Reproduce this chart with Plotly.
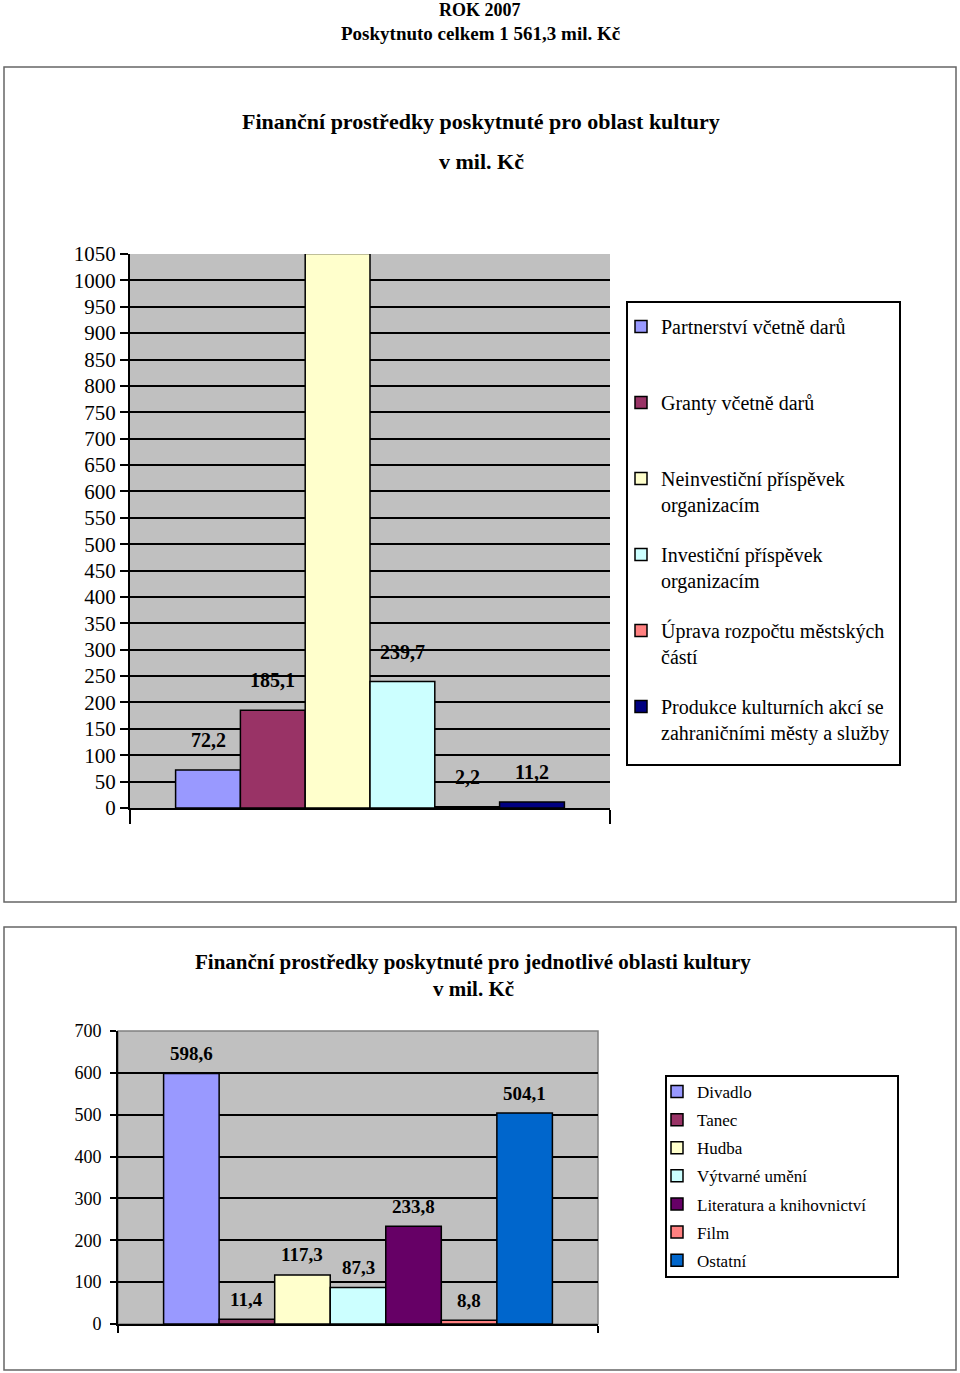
import plotly.graph_objects as go

# ---------------- data ----------------
group1 = ["Kultura"]
categories1 = [
    "Partnerství včetně darů",
    "Granty včetně darů",
    "Neinvestiční příspěvek organizacím",
    "Investiční příspěvek organizacím",
    "Úprava rozpočtu městských částí",
    "Produkce kulturních akcí se zahraničními městy a služby",
]
legend_labels1 = [
    "Partnerství včetně darů<br> ",
    "Granty včetně darů<br> ",
    "Neinvestiční příspěvek<br>organizacím",
    "Investiční příspěvek<br>organizacím",
    "Úprava rozpočtu městských<br>částí",
    "Produkce kulturních akcí se<br>zahraničními městy a služby",
]
values1 = [72.2, 185.1, 1050.9, 239.7, 2.2, 11.2]
colors1 = ["#9999FF", "#993366", "#FFFFCC", "#CCFFFF", "#FF8080", "#000080"]
y1_max = 1050
y1_step = 50

group2 = ["Oblasti"]
categories2 = ["Divadlo", "Tanec", "Hudba", "Výtvarné umění",
               "Literatura a knihovnictví", "Film", "Ostatní"]
values2 = [598.6, 11.4, 117.3, 87.3, 233.8, 8.8, 504.1]
colors2 = ["#9999FF", "#993366", "#FFFFCC", "#CCFFFF", "#660066", "#FF8080", "#0066CC"]
y2_max = 700
y2_step = 100

page_title_lines = ["ROK 2007", "Poskytnuto celkem 1 561,3 mil. Kč"]
title1_lines = ["Finanční prostředky poskytnuté pro oblast kultury", "v mil. Kč"]
title2_lines = ["Finanční prostředky poskytnuté pro jednotlivé oblasti kultury", "v mil. Kč"]

# ---------------- helpers ----------------
W, H = 960, 1373
SERIF = "Liberation Serif, Times New Roman, serif"
BARGAP = 0.19


def px(x):
    return x / W


def py(y):
    return 1 - y / H


def fmt(v):
    return f"{v:.1f}".replace(".", ",")


def slot_centers(n):
    # centres of n grouped bars inside category 0 (as Plotly lays them out)
    width = (1 - BARGAP) / n
    return [-(1 - BARGAP) / 2 + (i + 0.5) * width for i in range(n)]


fig = go.Figure()

for name, lab, v, c in zip(categories1, legend_labels1, values1, colors1):
    fig.add_trace(go.Bar(
        x=group1, y=[v], name=lab, legendgroup=name, legend="legend",
        marker=dict(color=c, line=dict(color="black", width=1.5)),
        xaxis="x", yaxis="y", hoverinfo="skip",
    ))

for name, v, c in zip(categories2, values2, colors2):
    fig.add_trace(go.Bar(
        x=group2, y=[v], name=name, legendgroup=name, legend="legend2",
        marker=dict(color=c, line=dict(color="black", width=1.5)),
        xaxis="x2", yaxis="y2", hoverinfo="skip",
    ))

annotations = []

# value labels, chart 1 (label of the bar that runs past the axis top is cut off)
for xc, v in zip(slot_centers(len(values1)), values1):
    if v <= y1_max:
        annotations.append(dict(
            text=f"<b>{fmt(v)}</b>", x=xc, y=v, xref="x", yref="y",
            xanchor="center", yanchor="middle", yshift=30, showarrow=False,
            font=dict(family=SERIF, size=20)))

# value labels, chart 2
for xc, v in zip(slot_centers(len(values2)), values2):
    annotations.append(dict(
        text=f"<b>{fmt(v)}</b>", x=xc, y=v, xref="x2", yref="y2",
        xanchor="center", yanchor="middle", yshift=20, showarrow=False,
        font=dict(family=SERIF, size=19)))


def title_ann(text, x, y, size):
    return dict(text=f"<b>{text}</b>", xref="paper", yref="paper", x=px(x), y=py(y),
                xanchor="center", yanchor="middle", showarrow=False,
                font=dict(family=SERIF, size=size))


annotations += [
    title_ann(page_title_lines[0], 480, 10, 18),
    title_ann(page_title_lines[1], 480, 33, 19),
    title_ann(title1_lines[0], 481, 122, 22),
    title_ann(title1_lines[1], 481, 162, 22),
    title_ann(title2_lines[0], 473, 962, 21),
    title_ann(title2_lines[1], 473, 989, 21),
]

axis_common = dict(showline=True, linecolor="black", linewidth=2,
                   ticks="outside", tickcolor="black", tickwidth=2)

fig.update_layout(
    width=W, height=H,
    margin=dict(l=0, r=0, t=0, b=0, autoexpand=False),
    paper_bgcolor="white", plot_bgcolor="#C0C0C0",
    barmode="group", bargap=BARGAP, bargroupgap=0,
    font=dict(family=SERIF, color="black"),
    xaxis=dict(domain=[px(130), px(610)], anchor="y", showticklabels=False,
               tickson="boundaries", ticklen=14, showgrid=False, **axis_common),
    yaxis=dict(domain=[py(808), py(254)], anchor="x", range=[0, y1_max],
               tick0=0, dtick=y1_step, ticklen=8, showgrid=True,
               gridcolor="black", gridwidth=2, zeroline=False,
               tickfont=dict(family=SERIF, size=21), **axis_common),
    xaxis2=dict(domain=[px(118), px(598)], anchor="y2", showticklabels=False,
                tickson="boundaries", ticklen=7, showgrid=False, **axis_common),
    yaxis2=dict(domain=[py(1324), py(1031)], anchor="x2", range=[0, y2_max],
                tick0=0, dtick=y2_step, ticklen=6, showgrid=True,
                gridcolor="black", gridwidth=1.5, zeroline=False,
                ticklabelstandoff=5,
                tickfont=dict(family=SERIF, size=18), **axis_common),
    legend=dict(x=px(621), y=py(307), xanchor="left", yanchor="top",
                font=dict(family=SERIF, size=20), bgcolor="rgba(0,0,0,0)",
                borderwidth=0, valign="top", tracegroupgap=21, itemwidth=30),
    legend2=dict(x=px(657), y=py(1074), xanchor="left", yanchor="top",
                 font=dict(family=SERIF, size=17), bgcolor="rgba(0,0,0,0)",
                 borderwidth=0, tracegroupgap=3, itemwidth=30),
    shapes=[
        dict(type="rect", xref="paper", yref="paper", x0=px(4), x1=px(956),
             y0=py(902), y1=py(67), line=dict(color="#666666", width=1.5)),
        dict(type="rect", xref="paper", yref="paper", x0=px(4), x1=px(956),
             y0=py(1370), y1=py(927), line=dict(color="#666666", width=1.5)),
        dict(type="rect", xref="paper", yref="paper", x0=px(627), x1=px(900),
             y0=py(765), y1=py(302), line=dict(color="black", width=2)),
        dict(type="rect", xref="paper", yref="paper", x0=px(666), x1=px(898),
             y0=py(1277), y1=py(1076), line=dict(color="black", width=2)),
        dict(type="rect", xref="x2 domain", yref="y2 domain", x0=0, x1=1,
             y0=0, y1=1, layer="below", line=dict(color="#808080", width=1.5)),
    ],
    annotations=annotations,
)

fig.write_html("out.html", config={"displayModeBar": False},
               post_script="document.body.style.margin='0px';")
